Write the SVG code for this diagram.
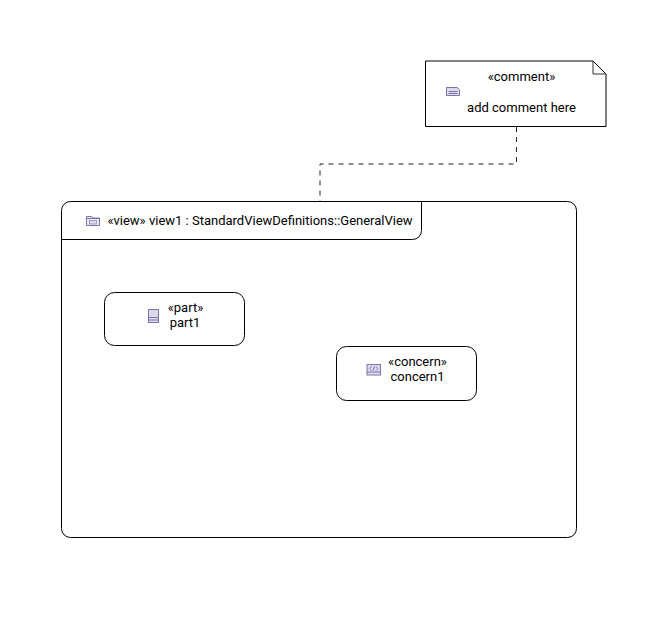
<svg xmlns="http://www.w3.org/2000/svg" width="654" height="618" viewBox="0 0 654 618">
<style>
text{font-family:Roboto,"Liberation Sans",sans-serif;font-size:13px;fill:#000;text-anchor:middle}
.b{fill:#fff;stroke:#000;stroke-width:1}
.n{fill:none;stroke:#000;stroke-width:1}
.i{fill:#dcd9ec;stroke:#7d74aa;stroke-width:1}
.l{fill:none;stroke:#7d74aa;stroke-width:1}
.c{fill:none;stroke:#222;stroke-width:1;stroke-dasharray:5 5}
</style>
<rect width="654" height="618" fill="#fff"/>
<g id="view1">
<rect class="b" x="61.500" y="201.500" width="515" height="336" rx="9"/>
<path class="n" d="M61.500 239.500H412.500a9 9 0 0 0 9-9V201.500"/>
<path class="i" d="M86.500 216.500h5l1.500 1.500h6.500v7.500h-13z" style="fill:#ebe9f4"/>
<path class="l" d="M86.500 218.500h13"/>
<rect x="89.500" y="220.500" width="7" height="3.500" fill="#dcd9ec" stroke="#7d74aa" stroke-width=".6"/>
<text x="260" y="225">«view» view1 : StandardViewDefinitions::GeneralView</text>
</g>
<g id="comment">
<path class="b" d="M425.500 61H593L606 74V126.500H425.500z"/>
<path class="n" d="M593 61V74H606" style="stroke:#333"/>
<path class="i" d="M446.500 87.500h10.500l2.500 2v6h-13z"/>
<path class="l" d="M448.500 91.500h9M448.500 93.500h9"/>
<text x="521.500" y="81">«comment»</text>
<text x="521.500" y="112">add comment here</text>
</g>
<g id="part1">
<rect class="b" x="104.500" y="292.500" width="140" height="53" rx="10"/>
<rect class="i" x="148.500" y="309.500" width="10" height="13"/>
<path class="l" d="M148.500 317.500h10M148.500 320h10"/>
<text x="185.500" y="312">«part»</text>
<text x="185" y="327">part1</text>
</g>
<g id="concern1">
<rect class="b" x="336.500" y="346.500" width="140" height="54" rx="10"/>
<rect class="i" x="367" y="364.500" width="13.500" height="10.500"/>
<path class="l" d="M367 372h13.500M371.500 366.500l-2 2 2 2M376 366.500l2 2-2 2M373 370.500l1.500-4"/>
<text x="417.500" y="366">«concern»</text>
<text x="417.500" y="381">concern1</text>
</g>
<g id="connectors">
<path class="c" d="M516.500 127V164H320V201"/>
</g>
</svg>
